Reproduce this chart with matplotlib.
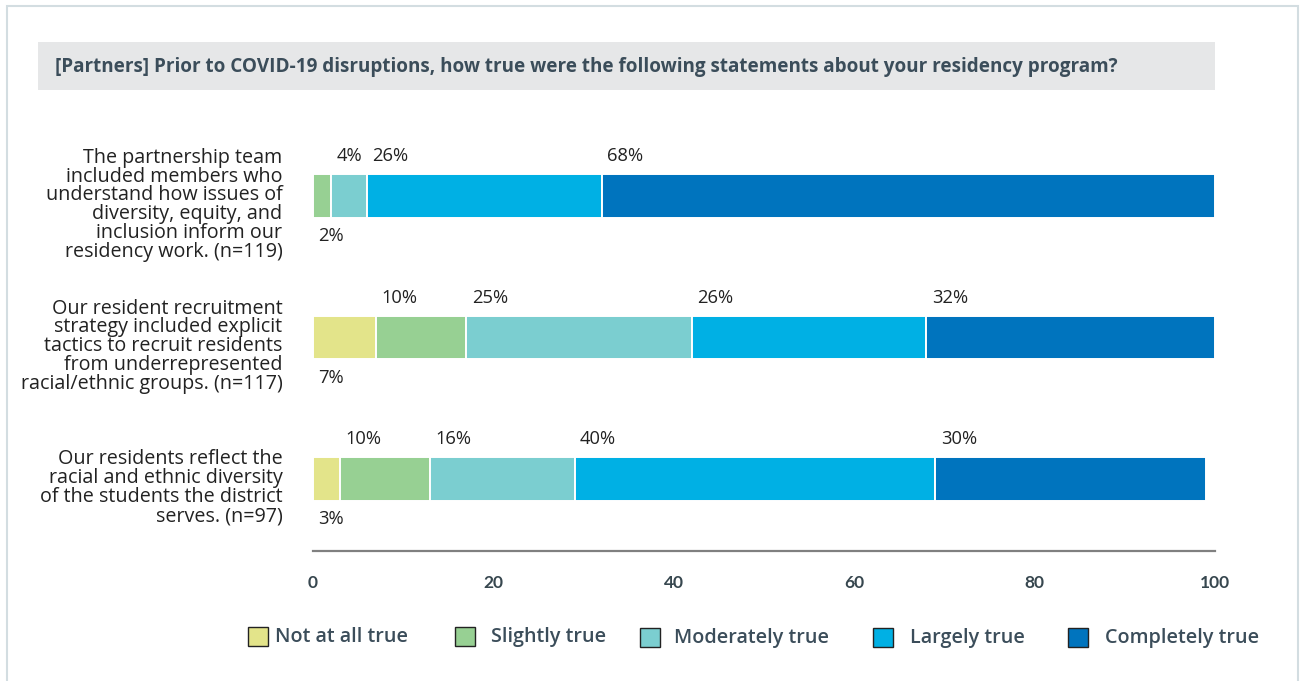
import matplotlib
matplotlib.use("Agg")
import matplotlib.pyplot as plt
from matplotlib.patches import Rectangle
import matplotlib.transforms as mtrans
import numpy as np

# ---------------- data ----------------
categories = [
    "The partnership team\nincluded members who\nunderstand how issues of\ndiversity, equity, and\ninclusion inform our\nresidency work. (n=119)",
    "Our resident recruitment\nstrategy included explicit\ntactics to recruit residents\nfrom underrepresented\nracial/ethnic groups. (n=117)",
    "Our residents reflect the\nracial and ethnic diversity\nof the students the district\nserves. (n=97)",
]
series_names = ["Not at all true", "Slightly true", "Moderately true", "Largely true", "Completely true"]
not_at_all = [0, 7, 3]
slightly = [2, 10, 10]
moderately = [4, 25, 16]
largely = [26, 26, 40]
completely = [68, 32, 30]
series_values = [not_at_all, slightly, moderately, largely, completely]
x_ticks = [0, 20, 40, 60, 80, 100]
title = "[Partners] Prior to COVID-19 disruptions, how true were the following statements about your residency program?"

colors = ["#e3e48a", "#97d093", "#7bced0", "#00b0e4", "#0074be"]

# ---------------- figure ----------------
W, H = 1302, 681
fig = plt.figure(figsize=(W / 100, H / 100), dpi=100)
fig.patch.set_facecolor("white")
FONT = ["Open Sans", "DejaVu Sans"]
TICKFONT = ["Lato", "DejaVu Sans"]

def fx(x):
    return x / W

def fy(y):
    return 1 - y / H

# outer border
fig.patches.append(Rectangle((fx(7), fy(700)), fx(1298) - fx(7), fy(6) - fy(700),
                             transform=fig.transFigure, facecolor="none",
                             edgecolor="#d3dde1", linewidth=1.5, zorder=0))
# title band
fig.patches.append(Rectangle((fx(38), fy(90)), fx(1215) - fx(38), fy(42) - fy(90),
                             transform=fig.transFigure, facecolor="#e6e7e8",
                             edgecolor="none", zorder=0))
fig.text(fx(55), fy(67), title, ha="left", va="center", fontsize=13.55,
         fontweight="bold", color="#3b4d5a", family=FONT)

ax = fig.add_axes([fx(313), fy(551), fx(1215) - fx(313), fy(110) - fy(551)])
y = np.arange(len(categories))
left = np.zeros(len(categories))
bar_h = 0.31
for name, vals, col in zip(series_names, series_values, colors):
    vals = np.array(vals, dtype=float)
    ax.barh(y, vals, left=left, height=bar_h, color=col, edgecolor="white",
            linewidth=1.4, label=name)
    left = left + vals

# value labels
for i in range(len(categories)):
    start = 0.0
    first = True
    for vals in series_values:
        v = vals[i]
        if v == 0:
            continue
        if first:
            ax.text(start + 0.6, y[i] + 0.285, f"{v}%", ha="left", va="center",
                    fontsize=13.2, color="#222222", family=FONT)
            first = False
        else:
            ax.text(start + 0.6, y[i] - 0.28, f"{v}%", ha="left", va="center",
                    fontsize=13.2, color="#222222", family=FONT)
        start += v

ax.set_xlim(0, 100)
ax.set_ylim(2.509, -0.608)
ax.set_xticks(x_ticks)
ax.set_xticklabels([str(t) for t in x_ticks], fontsize=12.5, fontweight="bold",
                   color="#37474f", family=TICKFONT)
ax.tick_params(axis="x", length=0, pad=17)
ax.set_yticks(y)
ax.set_yticklabels(categories, fontsize=14.2, color="#222222", family=FONT,
                   linespacing=0.93)
ax.tick_params(axis="y", length=0, pad=22)
for lab in ax.get_yticklabels():
    lab.set_transform(lab.get_transform() + mtrans.ScaledTranslation(0, -5 / 72, fig.dpi_scale_trans))
for s in ["top", "right", "left"]:
    ax.spines[s].set_visible(False)
ax.spines["bottom"].set_color("#808080")
ax.spines["bottom"].set_linewidth(1.6)
ax.set_facecolor("none")

# legend (manual placement)
sq_x = [248, 455, 640, 873, 1068]
txt_x = [275, 491, 674, 910, 1105]
sq_y = [627, 627, 628, 628, 628]
for name, col, sx, tx, sy in zip(series_names, colors, sq_x, txt_x, sq_y):
    fig.patches.append(Rectangle((fx(sx), fy(sy + 19)), fx(20), 19 / H,
                                 transform=fig.transFigure, facecolor=col,
                                 edgecolor="#222222", linewidth=1.0))
    fig.text(fx(tx), fy(sy + 10), name, ha="left", va="center", fontsize=14.2,
             fontweight="semibold", color="#3b4d5a", family=FONT)

fig.savefig("out.png", dpi=100)
